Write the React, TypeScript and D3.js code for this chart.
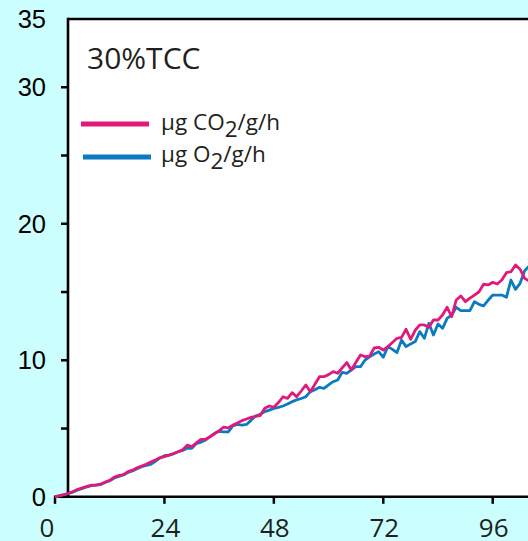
import React from "react";
import * as d3 from "d3";

// Respiration time course, hourly readings
const hours: number[] = Array.from({ length: 105 }, (_, i) => i);

const co2Rate: number[] = [
  0, 0.08, 0.17, 0.26, 0.38, 0.55, 0.65, 0.76, 0.86, 0.86,
  0.92, 1.08, 1.2, 1.45, 1.55, 1.62, 1.84, 1.95, 2.13, 2.25,
  2.38, 2.55, 2.7, 2.85, 2.94, 3.05, 3.17, 3.3, 3.45, 3.78,
  3.68, 3.95, 4.21, 4.21, 4.4, 4.62, 4.85, 5.1, 5.05, 5.25,
  5.4, 5.58, 5.7, 5.82, 5.9, 5.95, 6.48, 6.65, 6.56, 6.9,
  7.33, 7.21, 7.63, 7.33, 7.75, 8.19, 7.7, 8.25, 8.8, 8.8,
  8.95, 9.17, 9.05, 9.45, 9.83, 9.29, 9.85, 10.39, 10.27, 10.3,
  10.9, 10.95, 10.75, 11.0, 11.3, 11.61, 11.68, 12.27, 11.54, 12.2,
  12.59, 12.59, 12.42, 12.95, 12.95, 13.32, 13.88, 13.19, 14.42, 14.71,
  14.29, 14.55, 14.78, 15.02, 15.57, 15.52, 15.71, 15.59, 15.88, 16.42,
  16.49, 16.98, 16.67, 16.0, 15.8,
];

const o2Rate: number[] = [
  0, 0.08, 0.15, 0.25, 0.36, 0.5, 0.62, 0.72, 0.82, 0.86,
  0.9, 1.05, 1.18, 1.38, 1.5, 1.6, 1.78, 1.9, 2.05, 2.2,
  2.3, 2.38, 2.6, 2.85, 3.01, 3.05, 3.15, 3.3, 3.4, 3.55,
  3.55, 3.9, 4.0, 4.16, 4.4, 4.65, 4.8, 4.75, 4.75, 5.2,
  5.3, 5.25, 5.3, 5.6, 5.92, 6.05, 6.24, 6.35, 6.48, 6.55,
  6.65, 6.8, 6.97, 7.1, 7.2, 7.33, 7.7, 7.85, 8.02, 7.95,
  8.2, 8.43, 8.56, 9.12, 9.05, 9.3, 9.53, 9.53, 10.02, 10.25,
  10.46, 10.63, 10.22, 11.0, 10.8, 10.56, 11.49, 11.0, 11.2, 11.37,
  12.1, 11.61, 12.71, 11.85, 12.66, 12.34, 13.07, 13.32, 13.88, 13.64,
  13.64, 13.64, 14.29, 14.1, 13.98, 14.4, 14.78, 14.78, 14.78, 14.61,
  15.88, 15.2, 15.64, 16.56, 16.9,
];

const xTicks: number[] = [0, 24, 48, 72, 96];
const yTicks: number[] = [0, 5, 10, 15, 20, 25, 30];
const yLabels: number[] = [0, 10, 20, 30, 35];

const W = 528;
const H = 541;

const PINK = "#e2187b";
const BLUE = "#0a7bc1";
const INK = "#231f20";

export default function App() {
  const x = d3.scaleLinear().domain([0, 104]).range([55, 529.2]);
  const y = d3.scaleLinear().domain([0, 35]).range([496.8, 19]);
  const axisX = 68;

  const line = (vals: number[]) =>
    d3
      .line<number>()
      .x((_, i) => x(hours[i]))
      .y((v) => y(v))(vals) || "";

  return (
    <svg
      width={W}
      height={H}
      style={{ position: "absolute", left: 0, top: 0, display: "block" }}
    >
      <rect x={0} y={0} width={W} height={H} fill="#ccffff" />
      <rect x={axisX} y={y(35)} width={W - axisX} height={y(0) - y(35)} fill="#ffffff" />

      {/* frame: left axis and top edge */}
      <line x1={axisX} x2={axisX} y1={y(35) - 1.2} y2={y(0) + 1.2} stroke="#000" strokeWidth={2.6} />
      <line x1={axisX} x2={W} y1={y(35)} y2={y(35)} stroke="#000" strokeWidth={2.6} />
      <line x1={x(0) - 1} x2={W} y1={y(0)} y2={y(0)} stroke="#000" strokeWidth={2.6} />

      {yTicks.map((t) => (
        <line key={"yt" + t} x1={axisX - 7} x2={axisX} y1={y(t)} y2={y(t)} stroke="#000" strokeWidth={2.5} />
      ))}
      {xTicks.map((t) => (
        <line key={"xt" + t} x1={x(t)} x2={x(t)} y1={y(0)} y2={y(0) + 7} stroke="#000" strokeWidth={2.5} />
      ))}

      {yLabels.map((t) => (
        <text
          key={"yl" + t}
          x={46}
          y={y(t)}
          dy="0.36em"
          textAnchor="end"
          fontFamily="Liberation Sans, Arial, sans-serif"
          fontSize={25.5}
          fill="#000"
        >
          {t}
        </text>
      ))}
      {xTicks.map((t) => (
        <text
          key={"xl" + t}
          x={t === 0 ? x(t) - 8 : x(t) + 1}
          y={536.5}
          textAnchor="middle"
          fontFamily="Open Sans, sans-serif"
          fontSize={26}
          fill={INK}
        >
          {t}
        </text>
      ))}

      <path d={line(o2Rate)} fill="none" stroke={BLUE} strokeWidth={2.8} strokeLinejoin="round" />
      <path d={line(co2Rate)} fill="none" stroke={PINK} strokeWidth={2.8} strokeLinejoin="round" />

      <text x={87} y={68.5} fontFamily="Open Sans, sans-serif" fontSize={30} fill={INK}>
        30%TCC
      </text>

      <line x1={81} x2={149} y1={124} y2={124} stroke={PINK} strokeWidth={5} />
      <line x1={83} x2={151} y1={157} y2={157} stroke={BLUE} strokeWidth={5} />
      <text x={161} y={129.5} fontFamily="Open Sans, sans-serif" fontSize={22.5} fill={INK}>
        μg CO<tspan dy={7}>2</tspan>
        <tspan dy={-7}>/g/h</tspan>
      </text>
      <text x={161} y={162} fontFamily="Open Sans, sans-serif" fontSize={22.5} fill={INK}>
        μg O<tspan dy={7}>2</tspan>
        <tspan dy={-7}>/g/h</tspan>
      </text>
    </svg>
  );
}
